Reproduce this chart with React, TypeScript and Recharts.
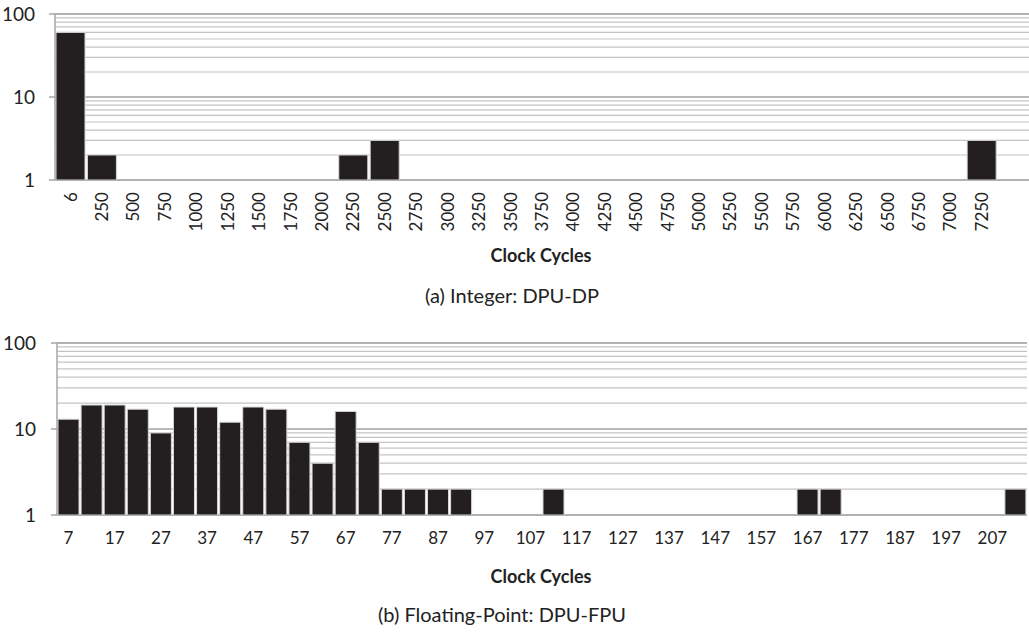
import React from 'react'
import { BarChart, Bar, XAxis, YAxis, CartesianGrid } from 'recharts'

// (a) Integer: DPU-DP
const intCycles = [
  '6', '250', '500', '750', '1000', '1250', '1500', '1750', '2000', '2250',
  '2500', '2750', '3000', '3250', '3500', '3750', '4000', '4250', '4500', '4750',
  '5000', '5250', '5500', '5750', '6000', '6250', '6500', '6750', '7000', '7250', ''
]
const intCounts = [
  60, 2, null, null, null, null, null, null, null, 2,
  3, null, null, null, null, null, null, null, null, null,
  null, null, null, null, null, null, null, null, null, 3, null
]

// (b) Floating-Point: DPU-FPU
const fpCycles = [
  '7', '12', '17', '22', '27', '32', '37', '42', '47', '52',
  '57', '62', '67', '72', '77', '82', '87', '92', '97', '102',
  '107', '112', '117', '122', '127', '132', '137', '142', '147', '152',
  '157', '162', '167', '172', '177', '182', '187', '192', '197', '202',
  '207', '212'
]
const fpCounts = [
  13, 19, 19, 17, 9, 18, 18, 12, 18, 17,
  7, 4, 16, 7, 2, 2, 2, 2, null, null,
  null, 2, null, null, null, null, null, null, null, null,
  null, null, 2, 2, null, null, null, null, null, null,
  null, 2
]

const yTicks = [1, 10, 100]
const minorGrid = [2, 3, 4, 5, 6, 7, 8, 9, 20, 30, 40, 50, 60, 70, 80, 90]
const majorGrid = [10, 100]

const FONT = 'Lato, "Open Sans", sans-serif'
const AXIS = '#a6a6a6'
const BAR = '#231f20'

const toRows = (cats: string[], vals: (number | null)[]) =>
  cats.map((c, i) => ({ cycles: c, count: vals[i] }))

const RotatedTick = (props: any) => {
  const { x, y, payload } = props
  return (
    <text
      x={x}
      y={y}
      transform={`rotate(-90, ${x}, ${y})`}
      textAnchor="end"
      dy="0.35em"
      fontSize={17}
      fontFamily={FONT}
      fill="#222"
    >
      {payload.value}
    </text>
  )
}

type HistProps = {
  rows: { cycles: string; count: number | null }[]
  n: number
  height: number
  plotTop: number
  axisWidth: number
  right: number
  labelHeight: number
  rotated: boolean
  interval: number
  yMargin: number
  xMargin: number
}

const Histogram = ({ rows, n, height, plotTop, axisWidth, right, labelHeight, rotated, interval, yMargin, xMargin }: HistProps) => {
  // category edges, so ticks sit between the bars
  const slotTicks = Array.from({ length: n + 1 }, (_, i) => i)
  return (
    <BarChart
      width={1029}
      height={height}
      data={rows}
      margin={{ top: plotTop, right, left: 0, bottom: 0 }}
      barCategoryGap={1}
    >
      <CartesianGrid yAxisId="minor" xAxisId="cat" vertical={false} stroke="#c4c4c4" strokeWidth={1.2} />
      <CartesianGrid yAxisId="major" xAxisId="cat" vertical={false} stroke="#a0a0a0" strokeWidth={1.4} />
      <XAxis
        xAxisId="edges"
        type="number"
        domain={[0, n]}
        allowDataOverflow
        ticks={slotTicks}
        tick={false}
        height={0}
        tickSize={6}
        stroke={AXIS}
        strokeWidth={1.5}
      />
      <XAxis
        xAxisId="cat"
        dataKey="cycles"
        interval={interval}
        height={labelHeight}
        axisLine={false}
        tickLine={false}
        tickSize={0}
        tickMargin={xMargin}
        tick={rotated ? <RotatedTick /> : { fontSize: 17, fontFamily: FONT, fill: '#222' }}
      />
      <YAxis
        yAxisId="main"
        scale="log"
        domain={[1, 100]}
        allowDataOverflow
        ticks={yTicks}
        interval={0}
        width={axisWidth}
        tickSize={6}
        tickMargin={yMargin}
        stroke={AXIS}
        strokeWidth={1.5}
        tick={{ fontSize: 19, fontFamily: FONT, fill: '#222' }}
      />
      <YAxis yAxisId="minor" hide scale="log" domain={[1, 100]} allowDataOverflow ticks={minorGrid} interval={0} />
      <YAxis yAxisId="major" hide scale="log" domain={[1, 100]} allowDataOverflow ticks={majorGrid} interval={0} />
      <Bar xAxisId="cat" yAxisId="main" dataKey="count" fill={BAR} stroke="#d4d4d4" strokeWidth={1} isAnimationActive={false} />
    </BarChart>
  )
}

const textStyle = (top: number, left: number, bold: boolean, size: number): React.CSSProperties => ({
  position: 'absolute',
  top,
  left,
  transform: 'translateX(-50%)',
  fontFamily: FONT,
  fontWeight: bold ? 700 : 400,
  fontSize: size,
  color: '#222',
  whiteSpace: 'nowrap',
  lineHeight: 1
})

export default function App() {
  return (
    <div style={{ position: 'absolute', left: 0, top: 0, width: 1029, height: 632, background: '#fff' }}>
      <div style={{ position: 'absolute', left: 0, top: 0 }}>
        <Histogram
          rows={toRows(intCycles, intCounts)}
          n={intCycles.length}
          height={240}
          plotTop={14}
          axisWidth={55}
          right={0}
          labelHeight={60}
          rotated
          interval={0}
          yMargin={14}
          xMargin={12}
        />
      </div>
      <div style={textStyle(246, 541, true, 18)}>Clock Cycles</div>
      <div style={textStyle(285, 512, false, 20)}>(a) Integer: DPU-DP</div>
      <div style={{ position: 'absolute', left: 0, top: 329 }}>
        <Histogram
          rows={toRows(fpCycles, fpCounts)}
          n={fpCycles.length}
          height={226}
          plotTop={14}
          axisWidth={57}
          right={2}
          labelHeight={40}
          rotated={false}
          interval={1}
          yMargin={15}
          xMargin={17}
        />
      </div>
      <div style={textStyle(567, 541, true, 18)}>Clock Cycles</div>
      <div style={textStyle(604, 502, false, 20)}>(b) Floating-Point: DPU-FPU</div>
    </div>
  )
}
